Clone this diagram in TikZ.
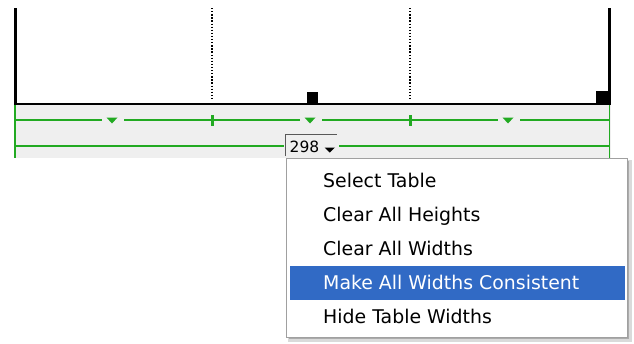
\documentclass[tikz,border=0pt]{standalone}
\usepackage{fontspec}
\setmainfont{DejaVu Sans}
\definecolor{grn}{RGB}{34,170,34}
\definecolor{band}{RGB}{239,239,239}
\definecolor{selblue}{RGB}{49,106,197}
\definecolor{menuborder}{RGB}{160,160,160}
\definecolor{shadowc}{RGB}{150,150,150}
\tikzset{
  border/.style={line width=3pt, black},
  gline/.style={line width=1.8pt, grn},
  dotline/.style={line width=1.4pt, black, dash pattern=on 1.3pt off 1.8pt},
  gtri/.style={fill=grn, draw=none},
  item/.style={anchor=base west, inner sep=0pt, font=\fontsize{18.9}{20}\selectfont, text=black},
}
\begin{document}
\begin{tikzpicture}[x=1pt,y=-1pt]
\useasboundingbox (0,0) rectangle (634,343);
% table area
\fill[band] (14,105) rectangle (610.5,158);
\draw[dotline] (212,8) -- (212,99);
\draw[dotline] (410,8) -- (410,99);
\draw[border] (15,8) -- (15,104.5);
\draw[border] (609,8) -- (609,104.5);
\draw[line width=2pt] (14,104) -- (610.5,104);
\fill (307,92) rectangle (318,104);
\fill (596,91) rectangle (610.5,104);
% green rulers
\draw[gline] (15,105) -- (15,158);
\draw[gline] (609.5,105) -- (609.5,160);
\draw[gline] (15,120) -- (102,120);
\draw[gline] (124,120) -- (300,120);
\draw[gline] (322,120) -- (498,120);
\draw[gline] (520,120) -- (609.5,120);
\foreach \cx in {112,310,508} {
  \fill[gtri] (\cx-5.5,117.5) -- (\cx+5.5,117.5) -- (\cx,123.5) -- cycle;
}
\fill[grn] (210.5,115) rectangle (213.5,126);
\fill[grn] (408.5,115) rectangle (411.5,126);
\draw[gline] (15,146) -- (284,146);
\draw[gline] (339,146) -- (609.5,146);
% width box
\node[inner sep=0pt, anchor=base west, font=\fontsize{15.5}{16}\selectfont] (w) at (289.5,152) {298};
\draw[line width=1pt, gray!70!black] (285.5,156) -- (285.5,134.5) -- (337,134.5);
\fill (324.5,147.5) -- (335,147.5) -- (329.75,152.5) -- cycle;
% menu
\fill[shadowc!35] (288,160) rectangle (631.5,341.5);
\fill[shadowc!80] (289,161) rectangle (629,339);
\filldraw[fill=white, draw=menuborder, line width=1pt] (286,158) rectangle (627,337);
\fill[selblue] (290,266) rectangle (625,300);
\node[item] (i1) at (323,187) {Select Table};
\node[item] (i2) at (323,221) {Clear All Heights};
\node[item] (i3) at (323,255) {Clear All Widths};
\node[item, text=white] (i4) at (323,289) {Make All Widths Consistent};
\node[item] (i5) at (323,323) {Hide Table Widths};
\end{tikzpicture}
\end{document}
